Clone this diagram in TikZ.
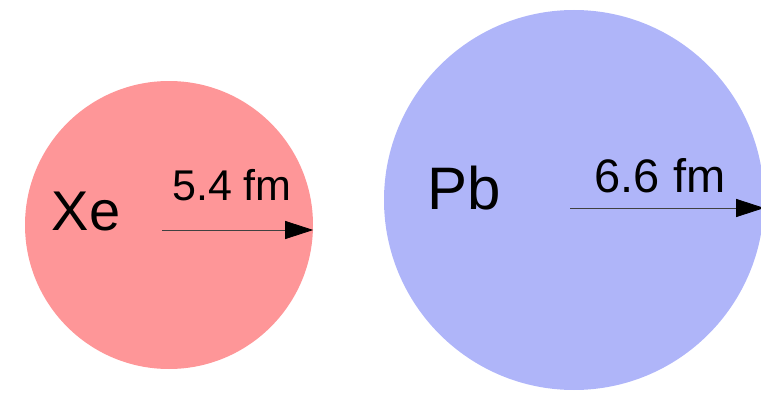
\documentclass[tikz,border=0pt]{standalone}
\usepackage{fontspec}
\setmainfont{Liberation Sans}
\usetikzlibrary{arrows.meta,positioning}
\definecolor{xeszin}{RGB}{254,150,152}
\definecolor{pbszin}{RGB}{175,181,249}
\tikzset{
  mag/.style={circle,inner sep=0pt,draw=none},
  felirat/.style={inner sep=0pt,anchor=base},
  nyil/.style={-{Triangle[length=28pt,width=18pt,color=black]},line width=0.8pt,draw=black!75},
}
\newcommand{\betu}[1]{\fontsize{#1}{#1}\selectfont}

\begin{document}
\begin{tikzpicture}[x=1pt,y=1pt]
  \useasboundingbox (0,0) rectangle (761,392);
  \clip (0,0) rectangle (761,392);
  % atommagok
  \node[mag,fill=xeszin,minimum size=288pt] (xe) at (169,167) {};
  \node[mag,fill=pbszin,minimum size=380pt] (pb) at (574,192) {};
  % nevek es sugarak
  \node[felirat,font=\betu{56}] (xenev) at (86,162) {Xe};
  \node[felirat,font=\betu{43}] (xesugar) at (232,192) {5.4 fm};
  \node[felirat,font=\betu{60}] (pbnev) at (464,183) {Pb};
  \node[felirat,font=\betu{47}] (pbsugar) at (660,200) {6.6 fm};
  \coordinate (xetol) at (162,162);
  \coordinate (pbtol) at (570,184);
  \draw[nyil] (xetol) -- (xetol -| xe.east);
  \draw[nyil] (pbtol) -- (pbtol -| pb.east);
\end{tikzpicture}
\end{document}
